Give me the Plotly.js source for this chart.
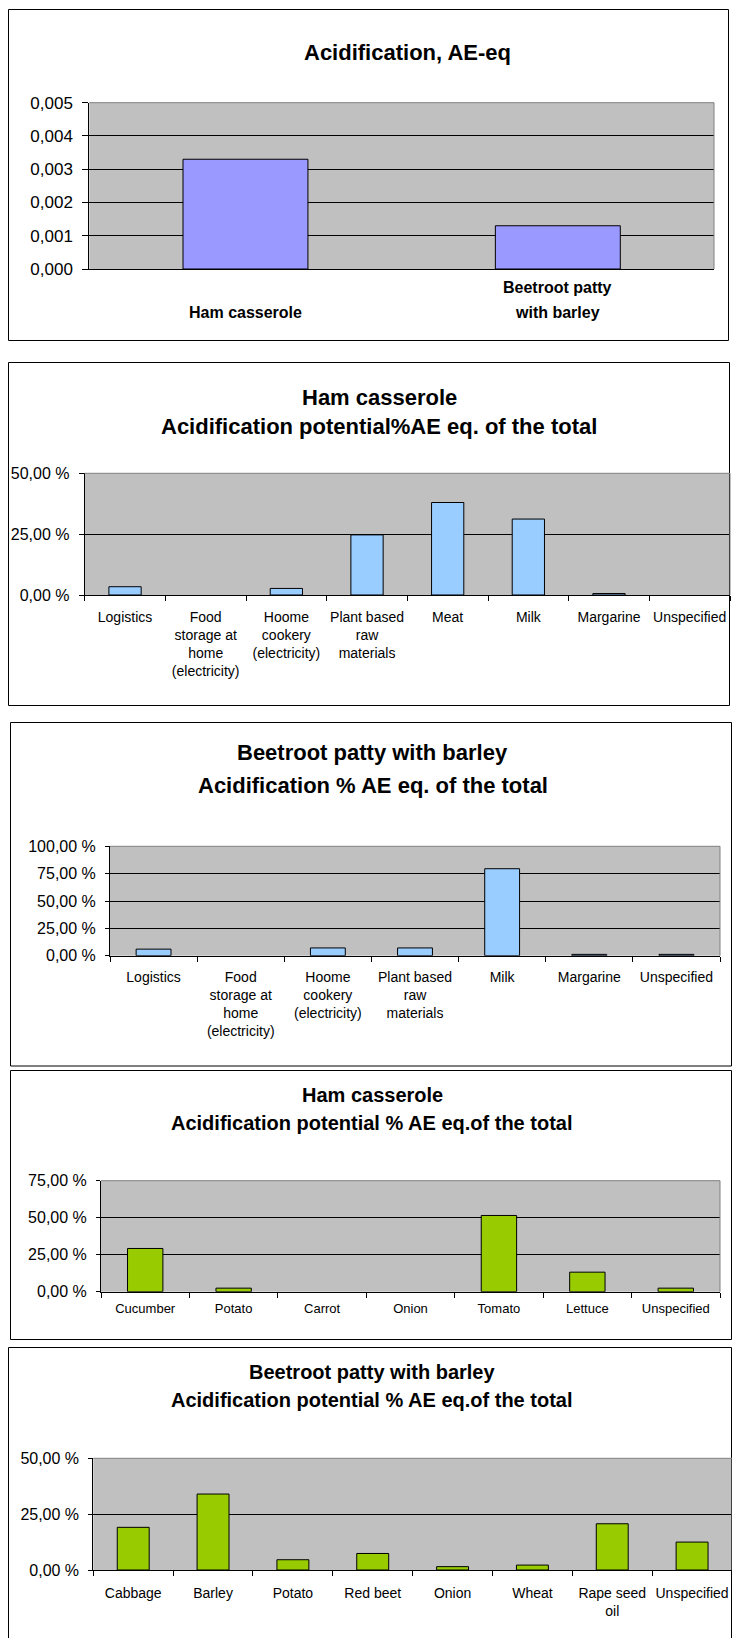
<!DOCTYPE html>
<html>
<head>
<meta charset="utf-8">
<script src="https://cdn.plot.ly/plotly-3.0.1.min.js"></script>
<style>
  html, body { margin: 0; padding: 0; overflow: hidden; background: #ffffff; }
  #chart { width: 732px; height: 1638px; }
</style>
</head>
<body>
<div id="chart"></div>
<script>
// ---- Data -------------------------------------------------------------
const totalCategories = ["Ham casserole", "Beetroot patty<br>with barley"];
const totalValues = [0.0033, 0.0013];

const hamStageCategories = [
  "Logistics",
  "Food<br>storage at<br>home<br>(electricity)",
  "Hoome<br>cookery<br>(electricity)",
  "Plant based<br>raw<br>materials",
  "Meat",
  "Milk",
  "Margarine",
  "Unspecified"
];
const hamStageValues = [3.4, 0, 2.7, 24.7, 38.0, 31.2, 0.6, 0];

const beetStageCategories = [
  "Logistics",
  "Food<br>storage at<br>home<br>(electricity)",
  "Hoome<br>cookery<br>(electricity)",
  "Plant based<br>raw<br>materials",
  "Milk",
  "Margarine",
  "Unspecified"
];
const beetStageValues = [6.0, 0, 7.1, 7.1, 79.5, 1.2, 1.2];

const hamIngredientCategories = ["Cucumber", "Potato", "Carrot", "Onion", "Tomato", "Lettuce", "Unspecified"];
const hamIngredientValues = [29.2, 2.4, 0, 0, 51.5, 13.2, 2.4];

const beetIngredientCategories = ["Cabbage", "Barley", "Potato", "Red beet", "Onion", "Wheat", "Rape seed<br>oil", "Unspecified"];
const beetIngredientValues = [19.1, 34.0, 4.6, 7.4, 1.5, 2.2, 20.7, 12.5];

const chartTitles = [
  ["Acidification, AE-eq"],
  ["Ham casserole", "Acidification potential%AE eq. of the total"],
  ["Beetroot patty with barley", "Acidification % AE eq. of the total"],
  ["Ham casserole", "Acidification potential % AE eq.of the total"],
  ["Beetroot patty with barley", "Acidification potential % AE eq.of the total"]
];

// ---- Page geometry (pixels) ------------------------------------------
const W = 732, H = 1638;
const FONT = 'Arial, "Liberation Sans", sans-serif';
const PLOT_BG = "#C0C0C0";

const panels = [
  { cats: totalCategories, vals: totalValues, color: "#9999FF",
    box: [8.5, 9.5, 728.5, 340.5], plot: [89.3, 102.7, 714, 269],
    range: [0, 0.005], dtick: 0.001, fmt: ".3f", suffix: "", yfont: 17, xfont: 16,
    xstandoff: 0, titleX: 407, titleY: [53], titleSize: 22, yticklen: 6 },
  { cats: hamStageCategories, vals: hamStageValues, color: "#99CCFF",
    box: [8.5, 362.5, 729.5, 705.5], plot: [84.7, 473.3, 730, 595],
    range: [0, 50], dtick: 25, fmt: ".2f", suffix: " %", yfont: 16, xfont: 14,
    xstandoff: 9, titleX: 379, titleY: [397, 427], titleSize: 22, yticklen: 5 },
  { cats: beetStageCategories, vals: beetStageValues, color: "#99CCFF",
    box: [10.5, 722.5, 731.5, 1066], plot: [110, 846.3, 720, 955.7],
    range: [0, 100], dtick: 25, fmt: ".2f", suffix: " %", yfont: 16, xfont: 14,
    xstandoff: 8, titleX: 373, titleY: [753, 785], titleSize: 22, yticklen: 4 },
  { cats: hamIngredientCategories, vals: hamIngredientValues, color: "#99CC00",
    box: [10.5, 1070.5, 731.5, 1339.5], plot: [101, 1180.7, 720, 1291.7],
    range: [0, 75], dtick: 25, fmt: ".2f", suffix: " %", yfont: 16, xfont: 13,
    xstandoff: 5, titleX: 372, titleY: [1095, 1123], titleSize: 20, yticklen: 4 },
  { cats: beetIngredientCategories, vals: beetIngredientValues, color: "#99CC00",
    box: [8.5, 1347.5, 731.5, 1660], plot: [93.3, 1458.3, 732, 1570],
    range: [0, 50], dtick: 25, fmt: ".2f", suffix: " %", yfont: 16, xfont: 14,
    xstandoff: 10, titleX: 372, titleY: [1372, 1400], titleSize: 20, yticklen: 4 }
];

const px = x => x / W;
const py = y => 1 - y / H;

const data = [];
const layout = {
  width: W, height: H,
  margin: { l: 0, r: 0, t: 0, b: 0, pad: 0 },
  paper_bgcolor: "#ffffff",
  plot_bgcolor: PLOT_BG,
  separators: ", ",
  showlegend: false,
  font: { family: FONT, color: "#000000" },
  shapes: [],
  annotations: []
};

panels.forEach((p, i) => {
  const n = i === 0 ? "" : String(i + 1);
  const [l, t, r, b] = p.plot;

  data.push({
    type: "bar",
    x: p.cats,
    y: p.vals,
    xaxis: "x" + n,
    yaxis: "y" + n,
    width: 0.4,
    marker: {
      color: p.color,
      // empty categories get no outline so nothing is drawn for them
      line: { color: "#000000", width: p.vals.map(v => (v > 0 ? 1 : 0)) }
    },
    hoverinfo: "skip"
  });

  layout["xaxis" + n] = {
    domain: [px(l), px(r)],
    anchor: "y" + n,
    type: "category",
    showgrid: false,
    zeroline: false,
    showline: true,
    linecolor: "#000000",
    linewidth: 1,
    ticks: i === 0 ? "" : "outside",
    tickson: "boundaries",
    ticklen: 5,
    tickcolor: "#000000",
    showticklabels: i !== 0,
    tickangle: 0,
    ticklabelstandoff: p.xstandoff,
    tickfont: { family: FONT, size: p.xfont, color: "#000000" },
    fixedrange: true
  };

  layout["yaxis" + n] = {
    domain: [py(b), py(t)],
    anchor: "x" + n,
    range: p.range,
    tick0: 0,
    dtick: p.dtick,
    tickformat: p.fmt,
    ticksuffix: p.suffix,
    showgrid: true,
    gridcolor: "#000000",
    gridwidth: 1,
    zeroline: false,
    showline: true,
    linecolor: "#000000",
    linewidth: 1,
    ticks: "outside",
    ticklen: p.yticklen,
    tickcolor: "#000000",
    ticklabelstandoff: 6,
    tickfont: { family: FONT, size: p.yfont, color: "#000000" },
    fixedrange: true
  };

  // outer frame of the chart
  layout.shapes.push({
    type: "rect", xref: "paper", yref: "paper",
    x0: px(p.box[0]), x1: px(p.box[2]), y0: py(p.box[3]), y1: py(p.box[1]),
    line: { color: "#000000", width: 1 }, fillcolor: "rgba(0,0,0,0)", layer: "below"
  });
  // grey top and right border of the plot area
  layout.shapes.push({
    type: "line", xref: "paper", yref: "paper",
    x0: px(l), x1: px(r), y0: py(t), y1: py(t),
    line: { color: "#808080", width: 1 }, layer: "above"
  });
  layout.shapes.push({
    type: "line", xref: "paper", yref: "paper",
    x0: px(r), x1: px(r), y0: py(t), y1: py(b),
    line: { color: "#808080", width: 1 }, layer: "above"
  });

  // chart title, one annotation per line
  chartTitles[i].forEach((line, j) => {
    layout.annotations.push({
      xref: "paper", yref: "paper",
      x: px(p.titleX), y: py(p.titleY[j]),
      xanchor: "center", yanchor: "middle",
      text: "<b>" + line + "</b>",
      showarrow: false,
      font: { family: FONT, size: p.titleSize, color: "#000000" }
    });
  });
});

// bold category labels of the totals chart, bottom-aligned lines
const labelBottomY = 312.5;
const labelLineGap = 25;
totalCategories.forEach(cat => {
  const lines = cat.split("<br>");
  lines.forEach((line, j) => {
    const fromBottom = lines.length - 1 - j;
    layout.annotations.push({
      xref: "x", yref: "paper",
      x: cat, y: py(labelBottomY - fromBottom * labelLineGap),
      xanchor: "center", yanchor: "middle",
      text: "<b>" + line + "</b>",
      showarrow: false,
      font: { family: FONT, size: 16, color: "#000000" }
    });
  });
});

Plotly.newPlot("chart", data, layout, { staticPlot: true, displayModeBar: false });
</script>
</body>
</html>
